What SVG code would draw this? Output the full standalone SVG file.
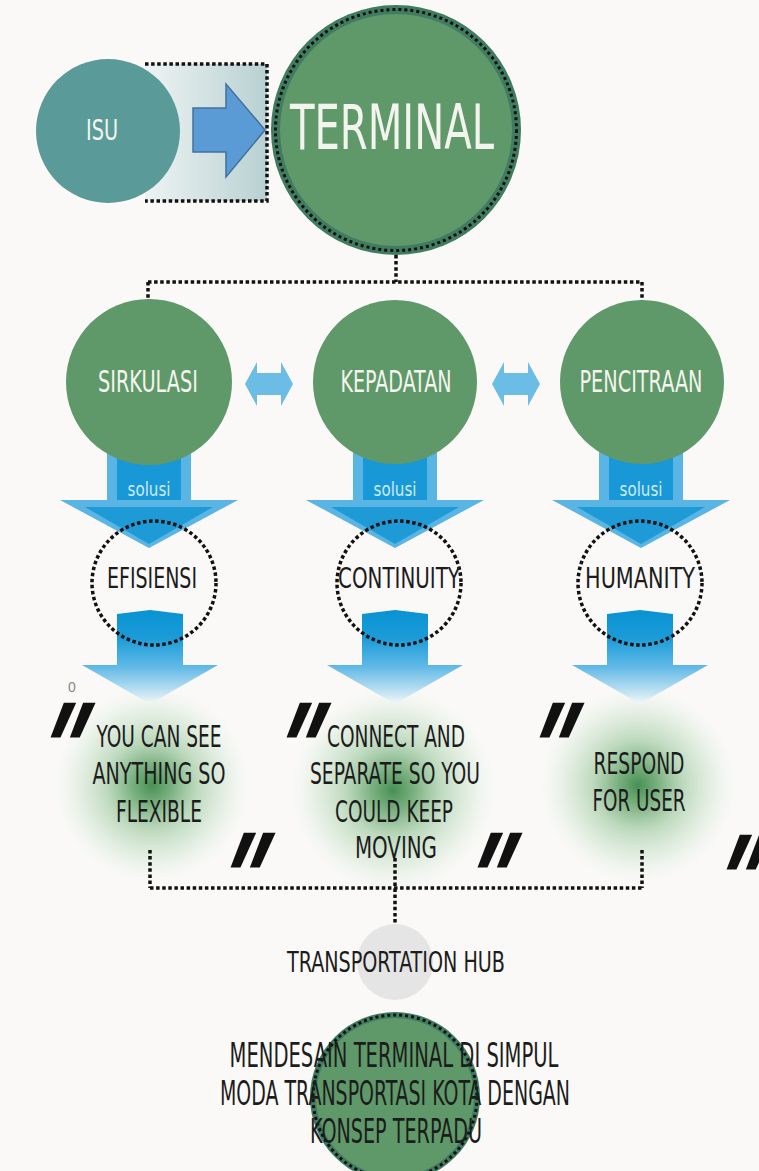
<svg xmlns="http://www.w3.org/2000/svg" xmlns:xlink="http://www.w3.org/1999/xlink" width="759" height="1171" viewBox="0 0 759 1171">
<style>
.dot{fill:none;stroke:#111;stroke-width:3.5;stroke-dasharray:3.5 2.6}
.wt{fill:#f4f4ee;font-family:'Liberation Sans Narrow','DejaVu Sans Condensed','Liberation Sans',sans-serif;text-anchor:middle}
.bk{fill:#1c1c1c;font-family:'Liberation Sans Narrow','DejaVu Sans Condensed','Liberation Sans',sans-serif;text-anchor:middle}
.q{fill:#111;font-family:'Liberation Sans',sans-serif;font-weight:bold;font-style:italic;font-size:140px}
.green{fill:#5f9869}
</style>
<defs>
<linearGradient id="rectG" x1="0" y1="0" x2="1" y2="0">
<stop offset="0" stop-color="#eef3f3"/>
<stop offset="1" stop-color="#b8d1d2"/>
</linearGradient>
<radialGradient id="glow">
<stop offset="0" stop-color="#3d8a4a" stop-opacity="0.95"/>
<stop offset="0.2" stop-color="#5a9e62" stop-opacity="0.8"/>
<stop offset="0.45" stop-color="#94c497" stop-opacity="0.6"/>
<stop offset="0.75" stop-color="#cfe5cf" stop-opacity="0.45"/>
<stop offset="0.9" stop-color="#e4f0e4" stop-opacity="0.22"/>
<stop offset="1" stop-color="#f2f7f2" stop-opacity="0"/>
</radialGradient>
<linearGradient id="bodyG" gradientUnits="userSpaceOnUse" x1="0" y1="612" x2="0" y2="665">
<stop offset="0" stop-color="#0a93d3"/>
<stop offset="0.5" stop-color="#1c9cd8"/>
<stop offset="1" stop-color="#5cb8e6"/>
</linearGradient>
<linearGradient id="headG" gradientUnits="userSpaceOnUse" x1="0" y1="665" x2="0" y2="704">
<stop offset="0" stop-color="#5ab6e6"/>
<stop offset="0.6" stop-color="#b4dcf0"/>
<stop offset="1" stop-color="#f3f8fa"/>
</linearGradient>
<g id="solusiArrow">
<rect x="-42" y="440" width="84" height="62" fill="#5ab4e4"/>
<rect x="-32" y="440" width="64" height="62" fill="#1898d6"/>
<polygon points="-89,500 89,500 0,548" fill="#5ab4e4"/>
<polygon points="-64,507 64,507 0,544" fill="#1e9bd7"/>
</g>
<g id="lowerArrow">
<polygon points="-33,614 0,610 33,614 33,666 -33,666" fill="url(#bodyG)"/>
<polygon points="-68,665 68,665 0,704" fill="url(#headG)"/>
</g>
<polygon id="dbl" points="0,0 12,-22 12,-11 36,-11 36,-22 48,0 36,22 36,11 12,11 12,22" fill="#6cbde6"/>
</defs>
<rect width="759" height="1171" fill="#faf9f7"/>

<!-- glows -->
<g id="glows">
<circle cx="152" cy="785" r="100" fill="url(#glow)"/>
<circle cx="393" cy="790" r="105" fill="url(#glow)"/>
<circle cx="638" cy="785" r="100" fill="url(#glow)"/>
</g>

<!-- connectors -->
<g id="connectors">
<rect x="145" y="64" width="122" height="137" fill="url(#rectG)"/>
<path class="dot" d="M145,64 H267 V201 H145"/>
<polygon points="193,108 226,108 226,84 265,130 226,177 226,152 193,152" fill="#5b9bd5" stroke="#41719c" stroke-width="1.5"/>
<path class="dot" d="M396,255 V282 M148,282 H642 M148,282 V302 M642,282 V302"/>
<use xlink:href="#dbl" x="245" y="384"/>
<use xlink:href="#dbl" x="492" y="384"/>
<use xlink:href="#solusiArrow" x="149"/>
<use xlink:href="#solusiArrow" x="395"/>
<use xlink:href="#solusiArrow" x="641"/>
<use xlink:href="#lowerArrow" x="150"/>
<use xlink:href="#lowerArrow" x="395"/>
<use xlink:href="#lowerArrow" x="640"/>
<path class="dot" d="M150,850 V888 M642,850 V888 M150,888 H642 M395,858 V942"/>
</g>

<g id="isu">
<circle cx="108" cy="131" r="72" fill="#5a9b9a"/>
<text class="wt" x="102" y="140" font-size="28" textLength="32" lengthAdjust="spacingAndGlyphs">ISU</text>
</g>

<g id="terminal">
<circle cx="396" cy="130" r="125" fill="#3f7c60"/>
<circle cx="396" cy="130" r="120.5" fill="none" stroke="#111" stroke-width="3" stroke-dasharray="3 3"/>
<circle cx="396" cy="130" r="116" class="green"/>
<text class="wt" x="392" y="149" font-size="62" textLength="204" lengthAdjust="spacingAndGlyphs">TERMINAL</text>
</g>

<g id="sirkulasi">
<circle cx="149" cy="382" r="83" class="green"/>
<text class="wt" x="148" y="392" font-size="30" textLength="100" lengthAdjust="spacingAndGlyphs">SIRKULASI</text>
</g>
<g id="kepadatan">
<circle cx="395" cy="382" r="82" class="green"/>
<text class="wt" x="396" y="392" font-size="30" textLength="111" lengthAdjust="spacingAndGlyphs">KEPADATAN</text>
</g>
<g id="pencitraan">
<circle cx="642" cy="382" r="82" class="green"/>
<text class="wt" x="641" y="392" font-size="30" textLength="123" lengthAdjust="spacingAndGlyphs">PENCITRAAN</text>
</g>

<g id="solusi-labels">
<text x="149" y="496" font-size="19" textLength="43" lengthAdjust="spacingAndGlyphs" class="wt" style="fill:#cdeaf6">solusi</text>
<text x="395" y="496" font-size="19" textLength="43" lengthAdjust="spacingAndGlyphs" class="wt" style="fill:#cdeaf6">solusi</text>
<text x="641" y="496" font-size="19" textLength="43" lengthAdjust="spacingAndGlyphs" class="wt" style="fill:#cdeaf6">solusi</text>
</g>

<g id="efisiensi">
<circle cx="154" cy="583" r="62" class="dot"/>
<text class="bk" x="152" y="588" font-size="28" textLength="90" lengthAdjust="spacingAndGlyphs">EFISIENSI</text>
</g>
<g id="continuity">
<circle cx="399" cy="583" r="62" class="dot"/>
<text class="bk" x="399" y="588" font-size="28" textLength="122" lengthAdjust="spacingAndGlyphs">CONTINUITY</text>
</g>
<g id="humanity">
<circle cx="640" cy="583" r="62" class="dot"/>
<text class="bk" x="640" y="588" font-size="28" textLength="110" lengthAdjust="spacingAndGlyphs">HUMANITY</text>
</g>

<text x="72" y="692" font-size="14" fill="#888" font-family="'Liberation Sans',sans-serif" text-anchor="middle">0</text>

<g id="quote1">
<text class="q" transform="translate(23,799) skewX(-16)" textLength="44" lengthAdjust="spacingAndGlyphs">"</text>
<text class="bk" x="159" y="747" font-size="30" textLength="125" lengthAdjust="spacingAndGlyphs">YOU CAN SEE</text>
<text class="bk" x="159" y="784" font-size="30" textLength="133" lengthAdjust="spacingAndGlyphs">ANYTHING SO</text>
<text class="bk" x="159" y="822" font-size="30" textLength="86" lengthAdjust="spacingAndGlyphs">FLEXIBLE</text>
<text class="q" transform="translate(203,929) skewX(-16)" textLength="44" lengthAdjust="spacingAndGlyphs">"</text>
</g>
<g id="quote2">
<text class="q" transform="translate(259,799) skewX(-16)" textLength="44" lengthAdjust="spacingAndGlyphs">"</text>
<text class="bk" x="396" y="747" font-size="30" textLength="138" lengthAdjust="spacingAndGlyphs">CONNECT AND</text>
<text class="bk" x="395" y="784" font-size="30" textLength="170" lengthAdjust="spacingAndGlyphs">SEPARATE SO YOU</text>
<text class="bk" x="394" y="822" font-size="30" textLength="118" lengthAdjust="spacingAndGlyphs">COULD KEEP</text>
<text class="bk" x="396" y="858" font-size="30" textLength="82" lengthAdjust="spacingAndGlyphs">MOVING</text>
<text class="q" transform="translate(450,929) skewX(-16)" textLength="44" lengthAdjust="spacingAndGlyphs">"</text>
</g>
<g id="quote3">
<text class="q" transform="translate(512,799) skewX(-16)" textLength="44" lengthAdjust="spacingAndGlyphs">"</text>
<text class="bk" x="639" y="774" font-size="30" textLength="91" lengthAdjust="spacingAndGlyphs">RESPOND</text>
<text class="bk" x="639" y="811" font-size="30" textLength="93" lengthAdjust="spacingAndGlyphs">FOR USER</text>
<text class="q" transform="translate(699,931) skewX(-16)" textLength="44" lengthAdjust="spacingAndGlyphs">"</text>
</g>

<g id="hub">
<circle cx="395" cy="962" r="38" fill="#e5e5e5"/>
<text class="bk" x="396" y="972" font-size="28" textLength="218" lengthAdjust="spacingAndGlyphs">TRANSPORTATION HUB</text>
</g>

<g id="concept">
<circle cx="395" cy="1097" r="85" fill="#3f7c60"/>
<circle cx="395" cy="1097" r="82" fill="none" stroke="#111" stroke-width="3" stroke-dasharray="3 3"/>
<circle cx="395" cy="1097" r="79" class="green"/>
<text class="bk" x="394" y="1067" font-size="33" textLength="329" lengthAdjust="spacingAndGlyphs">MENDESAIN TERMINAL DI SIMPUL</text>
<text class="bk" x="395" y="1105" font-size="33" textLength="350" lengthAdjust="spacingAndGlyphs">MODA TRANSPORTASI KOTA DENGAN</text>
<text class="bk" x="396" y="1143" font-size="33" textLength="172" lengthAdjust="spacingAndGlyphs">KONSEP TERPADU</text>
</g>
</svg>
